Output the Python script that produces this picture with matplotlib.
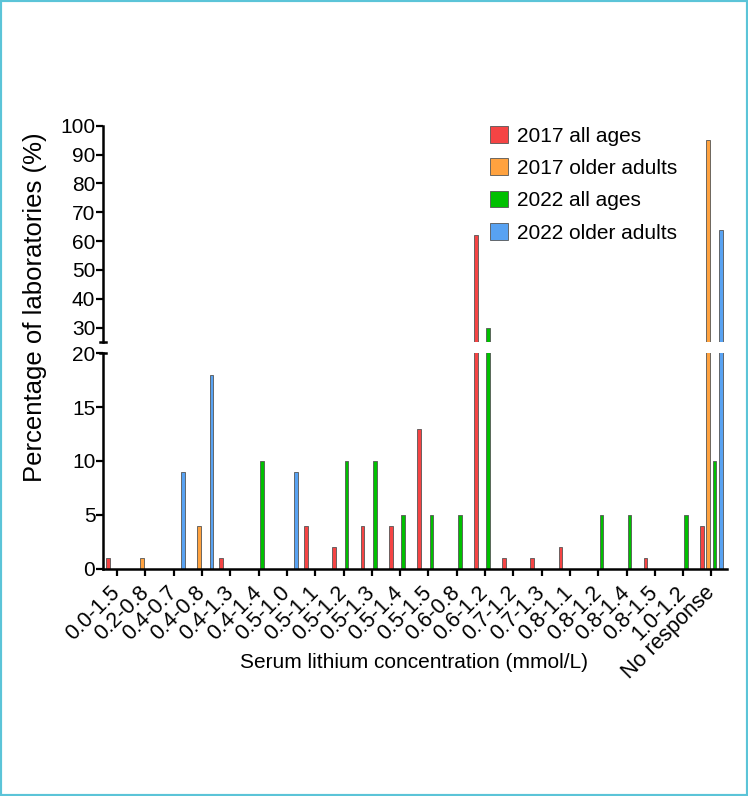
import numpy as np
import matplotlib
matplotlib.use("Agg")
import matplotlib.pyplot as plt
from matplotlib.patches import Rectangle

plt.rcParams['font.family'] = ['Liberation Sans', 'DejaVu Sans']

categories = ["0.0-1.5", "0.2-0.8", "0.4-0.7", "0.4-0.8", "0.4-1.3", "0.4-1.4",
              "0.5-1.0", "0.5-1.1", "0.5-1.2", "0.5-1.3", "0.5-1.4", "0.5-1.5",
              "0.6-0.8", "0.6-1.2", "0.7-1.2", "0.7-1.3", "0.8-1.1", "0.8-1.2",
              "0.8-1.4", "0.8-1.5", "1.0-1.2", "No response"]

all_2017 = [1, 0, 0, 0, 1, 0, 0, 4, 2, 4, 4, 13, 0, 62, 1, 1, 2, 0, 0, 1, 0, 4]
older_2017 = [0, 1, 0, 4, 0, 0, 0, 0, 0, 0, 0, 0, 0, 0, 0, 0, 0, 0, 0, 0, 0, 95]
all_2022 = [0, 0, 0, 0, 0, 10, 0, 0, 10, 10, 5, 5, 5, 30, 0, 0, 0, 5, 5, 0, 5, 10]
older_2022 = [0, 0, 9, 18, 0, 0, 9, 0, 0, 0, 0, 0, 0, 0, 0, 0, 0, 0, 0, 0, 0, 64]

series = [("2017 all ages", all_2017, "#F54444"),
          ("2017 older adults", older_2017, "#FFA23F"),
          ("2022 all ages", all_2022, "#00C000"),
          ("2022 older adults", older_2022, "#58A2F2")]

W, H = 748, 796
fig = plt.figure(figsize=(W / 100, H / 100), dpi=100)

left, right = 103 / W, 727 / W
ax_top = fig.add_axes([left, 1 - 342 / H, right - left, (342 - 125.7) / H])
ax_bot = fig.add_axes([left, 1 - 568.7 / H, right - left, (568.7 - 353.3) / H])

x = np.arange(len(categories))
offsets = [-0.33, -0.11, 0.11, 0.33]
bw = 0.13

for ax in (ax_top, ax_bot):
    for (name, vals, col), off in zip(series, offsets):
        ax.bar(x + off, vals, bw, color=col, edgecolor="#555555", linewidth=0.6, label=name)
    ax.set_xlim(-0.5, 21.55)
    for s in ("top", "right"):
        ax.spines[s].set_visible(False)
    ax.spines["left"].set_linewidth(1.8)
    ax.spines["bottom"].set_linewidth(1.8)
    ax.tick_params(direction="out", length=5, width=1.6, labelsize=15, pad=0.5)

ax_top.set_ylim(25, 100)
ax_top.set_yticks(range(30, 101, 10))
ax_top.spines["bottom"].set_visible(False)
ax_top.set_xticks([])

ax_bot.set_ylim(0, 20)
ax_bot.set_yticks([0, 5, 10, 15, 20])
ax_bot.set_xticks(x)
ax_bot.set_xticklabels(categories, rotation=45, ha="right", va="center",
                       rotation_mode="anchor", fontsize=15.5)
ax_bot.tick_params(axis="x", pad=10)

# caps at the axis break
ax_top.plot([-0.005, 0.005], [25, 25], color="black", lw=1.8,
            transform=ax_top.get_yaxis_transform(), clip_on=False)
ax_bot.plot([-0.005, 0.005], [20, 20], color="black", lw=1.8,
            transform=ax_bot.get_yaxis_transform(), clip_on=False)

fig.text(414 / W, 1 - 663 / H, "Serum lithium concentration (mmol/L)",
         ha="center", va="center", fontsize=15)
fig.text(35 / W, 1 - 307 / H, "Percentage of laboratories (%)", rotation=90,
         ha="center", va="center", fontsize=18.5)

ax_top.legend(loc="upper left", bbox_to_anchor=(490 / W, 1 - 126 / H),
              bbox_transform=fig.transFigure, frameon=False, fontsize=15,
              handlelength=0.85, handleheight=0.85, handletextpad=0.45,
              labelspacing=0.62, borderpad=0, borderaxespad=0)

fig.patches.append(Rectangle((0, 0), 1, 1, transform=fig.transFigure, fill=False,
                             edgecolor="#5BC4D8", linewidth=3))

fig.savefig("out.png", dpi=100)
